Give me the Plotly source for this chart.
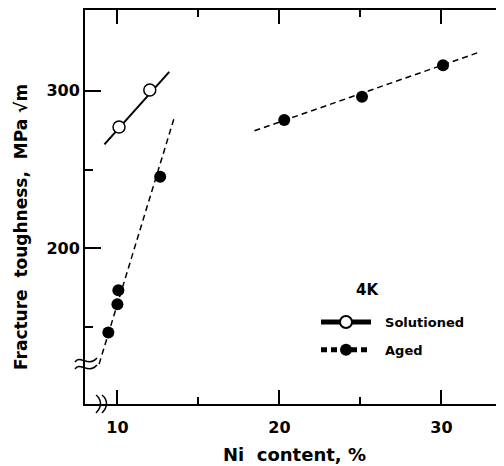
import plotly.graph_objects as go

# ---- data ----
sol_x = [10.1, 12.0]
sol_y = [277, 300.5]
sol_fit_x = [9.2, 13.2]
sol_fit_y = [266, 312]

aged_x = [9.44, 10.0, 10.06, 12.64, 20.3, 25.1, 30.1]
aged_y = [146.7, 164.5, 173.4, 245.4, 281.4, 296.2, 316.1]
aged_fit_x = [8.87, 13.5, None, 18.46, 32.3]
aged_fit_y = [126.6, 282.6, None, 274.6, 324.3]

x_ticks = [10, 20, 30]
x_minor = [15, 25]
y_ticks = [200, 300]
y_minor = [150, 250]

FONT = "DejaVu Sans"
OFF = 8  # page body margin
W, H = 504, 466
L, R, T, B = 77, 0, 2, 70
PW, PH = W - L - R, H - T - B


def px(x, y):
    """page pixel -> paper fraction"""
    return ((x - OFF) - L) / PW, (H - B - (y - OFF)) / PH


def path(cmds):
    out = []
    for c, pts in cmds:
        s = " ".join("%.4f,%.4f" % px(*p) for p in pts)
        out.append(c + " " + s)
    return " ".join(out)


DASH = "6px,4px"
NB = "\u00a0\u00a0"

fig = go.Figure()
fig.add_trace(go.Scatter(x=sol_fit_x, y=sol_fit_y, mode="lines",
                         line=dict(color="black", width=2), showlegend=False))
fig.add_trace(go.Scatter(x=aged_fit_x, y=aged_fit_y, mode="lines",
                         line=dict(color="black", width=1.5, dash=DASH),
                         showlegend=False))
fig.add_trace(go.Scatter(x=sol_x, y=sol_y, mode="markers",
                         marker=dict(symbol="circle", size=12, color="white",
                                     line=dict(color="black", width=1.5)),
                         showlegend=False))
fig.add_trace(go.Scatter(x=aged_x, y=aged_y, mode="markers",
                         marker=dict(symbol="circle", size=12, color="black"),
                         showlegend=False))
# legend entries
fig.add_trace(go.Scatter(x=[None], y=[None], mode="lines+markers", name=NB + "Solutioned",
                         legendgroup="a",
                         line=dict(color="black", width=1.2),
                         marker=dict(symbol="circle", size=12, color="white",
                                     line=dict(color="black", width=1.5))))
fig.add_trace(go.Scatter(x=[None], y=[None], mode="lines+markers", name=NB + "Aged",
                         legendgroup="b",
                         line=dict(color="black", width=1, dash=DASH),
                         marker=dict(symbol="circle", size=12, color="black")))

shapes = []
for dy in (0, 7):
    shapes.append(dict(type="path", xref="paper", yref="paper",
                       path=path([("M", [(75, 362 + dy)]),
                                  ("C", [(80, 354 + dy), (88, 368 + dy), (97, 358 + dy)])]),
                       line=dict(color="black", width=1.5)))
for dx in (0, 6):
    shapes.append(dict(type="path", xref="paper", yref="paper",
                       path=path([("M", [(96 + dx, 395)]),
                                  ("C", [(102 + dx, 400), (102 + dx, 407), (96 + dx, 413)])]),
                       line=dict(color="black", width=1.5)))

fig.update_layout(
    width=W, height=H,
    margin=dict(l=L, r=R, t=T, b=B),
    plot_bgcolor="white", paper_bgcolor="white",
    font=dict(family=FONT, color="black", size=16, weight="bold"),
    shapes=shapes,
    showlegend=True,
    legend=dict(x=px(316, 0)[0], y=px(0, 307)[1], xanchor="left", yanchor="top",
                bgcolor="rgba(0,0,0,0)", font=dict(size=13, family=FONT, weight="bold"),
                traceorder="grouped", tracegroupgap=8, itemsizing="constant",
                itemwidth=50),
    annotations=[
        dict(text="4K", x=px(367, 0)[0], y=px(0, 290)[1], xref="paper", yref="paper",
             xanchor="center", yanchor="middle",
             showarrow=False, font=dict(size=15, family=FONT, weight="bold")),
        dict(text="Fracture  toughness,  MPa √m", x=px(21, 0)[0], y=px(0, 227)[1],
             xref="paper", yref="paper", textangle=-90, showarrow=False,
             xanchor="center", yanchor="middle",
             font=dict(size=17, family=FONT, weight="bold")),
        dict(text="Ni  content, %", x=px(294, 0)[0], y=px(0, 454)[1],
             xref="paper", yref="paper", showarrow=False,
             xanchor="center", yanchor="middle",
             font=dict(size=18, family=FONT, weight="bold")),
    ],
)
fig.update_xaxes(range=[8.0, 8.0 + PW / 16.2], showline=True, linewidth=2, linecolor="black",
                 mirror="ticks", ticks="inside", ticklen=14, tickwidth=1.5,
                 tickcolor="black", tickvals=x_ticks, showgrid=False, zeroline=False,
                 ticklabelstandoff=8,
                 tickfont=dict(size=16, family=FONT, weight="bold"),
                 minor=dict(tickvals=x_minor, ticks="inside", ticklen=7,
                            tickwidth=1.5, tickcolor="black", showgrid=False))
fig.update_yaxes(range=[101.3, 351.2], showline=True, linewidth=2, linecolor="black",
                 mirror=False, ticks="inside", ticklen=16, tickwidth=1.5,
                 tickcolor="black", tickvals=y_ticks, showgrid=False, zeroline=False,
                 tickfont=dict(size=16, family=FONT, weight="bold"),
                 minor=dict(tickvals=y_minor, ticks="inside", ticklen=8,
                            tickwidth=1.5, tickcolor="black", showgrid=False))

fig.write_html("out.html")
